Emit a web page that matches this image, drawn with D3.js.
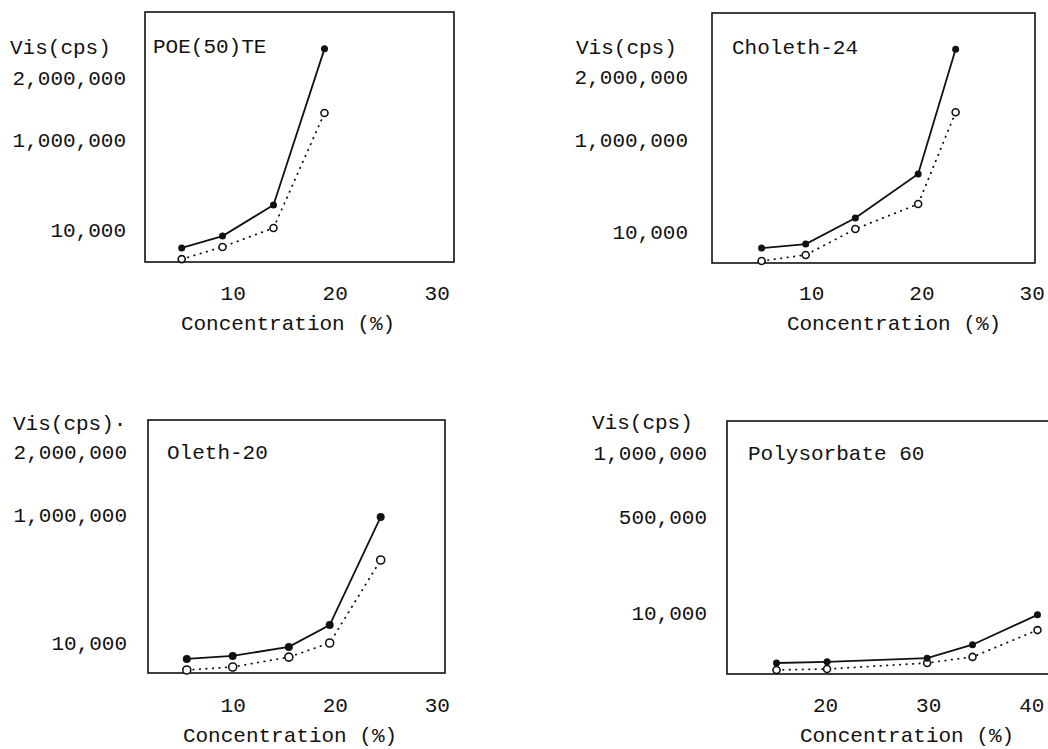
<!DOCTYPE html>
<html>
<head>
<meta charset="utf-8">
<script src="https://cdn.jsdelivr.net/npm/d3@7"></script>
<style>
  body { margin: 0; background: #fff; }
  svg text { font-family: "Liberation Mono", "DejaVu Sans Mono", monospace; font-size: 21px; fill: #111; }
</style>
</head>
<body>
<svg id="chart" width="1048" height="749"></svg>
<script>
// values (cps), filled = solid line, open = dotted line
const poeConc = [5, 9, 14, 19];
const poeFilled = [4400, 8100, 285000, 2470000];
const poeOpen = [900, 4700, 32000, 1435000];

const cholethConc = [5.5, 9.5, 14, 19.7, 23.1];
const cholethFilled = [4800, 6100, 160000, 634000, 2440000];
const cholethOpen = [650, 2600, 42000, 311000, 1440000];

const olethConc = [5.5, 10, 15.5, 19.5, 24.5];
const olethFilled = [4700, 5700, 8700, 149000, 985000];
const olethOpen = [1000, 2000, 5300, 10000, 652000];

const polyConc = [15.3, 20.2, 29.9, 34.3, 40.6];
const polyFilled = [1800, 2000, 2600, 4800, 9700];
const polyOpen = [660, 820, 1800, 2800, 7200];

const yTicksHigh = [10000, 1000000, 2000000];
const yTicksLow = [10000, 500000, 1000000];
const xTicks30 = [10, 20, 30];
const xTicks40 = [20, 30, 40];

const svg = d3.select("#chart");

// layout of each panel (frame box, where y tick labels sit, text spots)
const panels = [
    {
        title: "POE(50)TE", visLabel: "Vis(cps)",
        conc: poeConc, filled: poeFilled, open: poeOpen,
        yTicks: yTicksHigh, yPos: [230, 140, 78], xTicks: xTicks30,
        box: { l: 145, r: 454, t: 12, b: 262 }, xDom: [1.4, 31.7],
        labelRight: 126, visX: 10, visY: 47, titleX: 153, titleY: 46,
        xTickY: 293, xLabelX: 288, xLabelY: 323, r: 3.5
    },
    {
        title: "Choleth-24", visLabel: "Vis(cps)",
        conc: cholethConc, filled: cholethFilled, open: cholethOpen,
        yTicks: yTicksHigh, yPos: [232, 140, 77], xTicks: xTicks30,
        box: { l: 712, r: 1035, t: 13, b: 263 }, xDom: [1.0, 30.3],
        labelRight: 688, visX: 576, visY: 47, titleX: 732, titleY: 47,
        xTickY: 293, xLabelX: 894, xLabelY: 323, r: 3.5
    },
    {
        title: "Oleth-20", visLabel: "Vis(cps)·",
        conc: olethConc, filled: olethFilled, open: olethOpen,
        yTicks: yTicksHigh, yPos: [643, 515, 452], xTicks: xTicks30,
        box: { l: 148, r: 445, t: 420, b: 673 }, xDom: [1.7, 30.8],
        labelRight: 127, visX: 13, visY: 423, titleX: 167, titleY: 452,
        xTickY: 705, xLabelX: 290, xLabelY: 735, r: 4
    },
    {
        title: "Polysorbate 60", visLabel: "Vis(cps)",
        conc: polyConc, filled: polyFilled, open: polyOpen,
        yTicks: yTicksLow, yPos: [613, 517, 453], xTicks: xTicks40,
        box: { l: 727, r: 1054, t: 421, b: 674 }, xDom: [10.5, 42.2],
        labelRight: 707, visX: 592, visY: 422, titleX: 748, titleY: 453,
        xTickY: 705, xLabelX: 907, xLabelY: 735, r: 3.5
    }
];

panels.forEach(p => {
    const g = svg.append("g");

    const x = d3.scaleLinear().domain(p.xDom).range([p.box.l, p.box.r]);
    // the paper's y axis is neither linear nor log: piecewise between labelled values
    const y = d3.scaleLinear()
        .domain([0, ...p.yTicks])
        .range([p.box.b, ...p.yPos]);

    // frame
    g.append("rect")
        .attr("x", p.box.l).attr("y", p.box.t)
        .attr("width", p.box.r - p.box.l).attr("height", p.box.b - p.box.t)
        .attr("fill", "none").attr("stroke", "#111").attr("stroke-width", 1.6);

    // y tick labels
    const yAxis = g.append("g")
        .attr("transform", `translate(${p.labelRight},0)`)
        .call(d3.axisLeft(y).tickValues(p.yTicks).tickSize(0).tickPadding(0).tickFormat(d3.format(",")));
    yAxis.select(".domain").remove();
    yAxis.selectAll("text").attr("fill", "#111").style("font-size", "21px")
        .style("font-family", "'Liberation Mono', monospace");

    // x tick labels
    const xAxis = g.append("g")
        .attr("transform", `translate(0,${p.xTickY})`)
        .call(d3.axisBottom(x).tickValues(p.xTicks).tickSize(0).tickPadding(0));
    xAxis.select(".domain").remove();
    xAxis.selectAll("text").attr("y", 0).attr("dy", "0.35em").attr("fill", "#111")
        .style("font-size", "21px").style("font-family", "'Liberation Mono', monospace");

    g.append("text").attr("x", p.visX).attr("y", p.visY).attr("dy", "0.35em").text(p.visLabel);
    g.append("text").attr("x", p.titleX).attr("y", p.titleY).attr("dy", "0.35em").text(p.title);
    g.append("text").attr("x", p.xLabelX).attr("y", p.xLabelY).attr("dy", "0.35em")
        .attr("text-anchor", "middle").text("Concentration (%)");

    const line = d3.line().x(d => x(d[0])).y(d => y(d[1]));
    const filledPts = p.conc.map((c, i) => [c, p.filled[i]]);
    const openPts = p.conc.map((c, i) => [c, p.open[i]]);

    g.append("path").datum(openPts).attr("d", line)
        .attr("fill", "none").attr("stroke", "#111").attr("stroke-width", 1.8)
        .attr("stroke-linecap", "round").attr("stroke-dasharray", "0.5,6");
    g.append("path").datum(filledPts).attr("d", line)
        .attr("fill", "none").attr("stroke", "#111").attr("stroke-width", 1.8);

    g.selectAll(".open").data(openPts).join("circle")
        .attr("class", "open")
        .attr("cx", d => x(d[0])).attr("cy", d => y(d[1])).attr("r", p.r)
        .attr("fill", "#fff").attr("stroke", "#111").attr("stroke-width", 1.6);
    g.selectAll(".filled").data(filledPts).join("circle")
        .attr("class", "filled")
        .attr("cx", d => x(d[0])).attr("cy", d => y(d[1])).attr("r", p.r)
        .attr("fill", "#111");
});
</script>
</body>
</html>
